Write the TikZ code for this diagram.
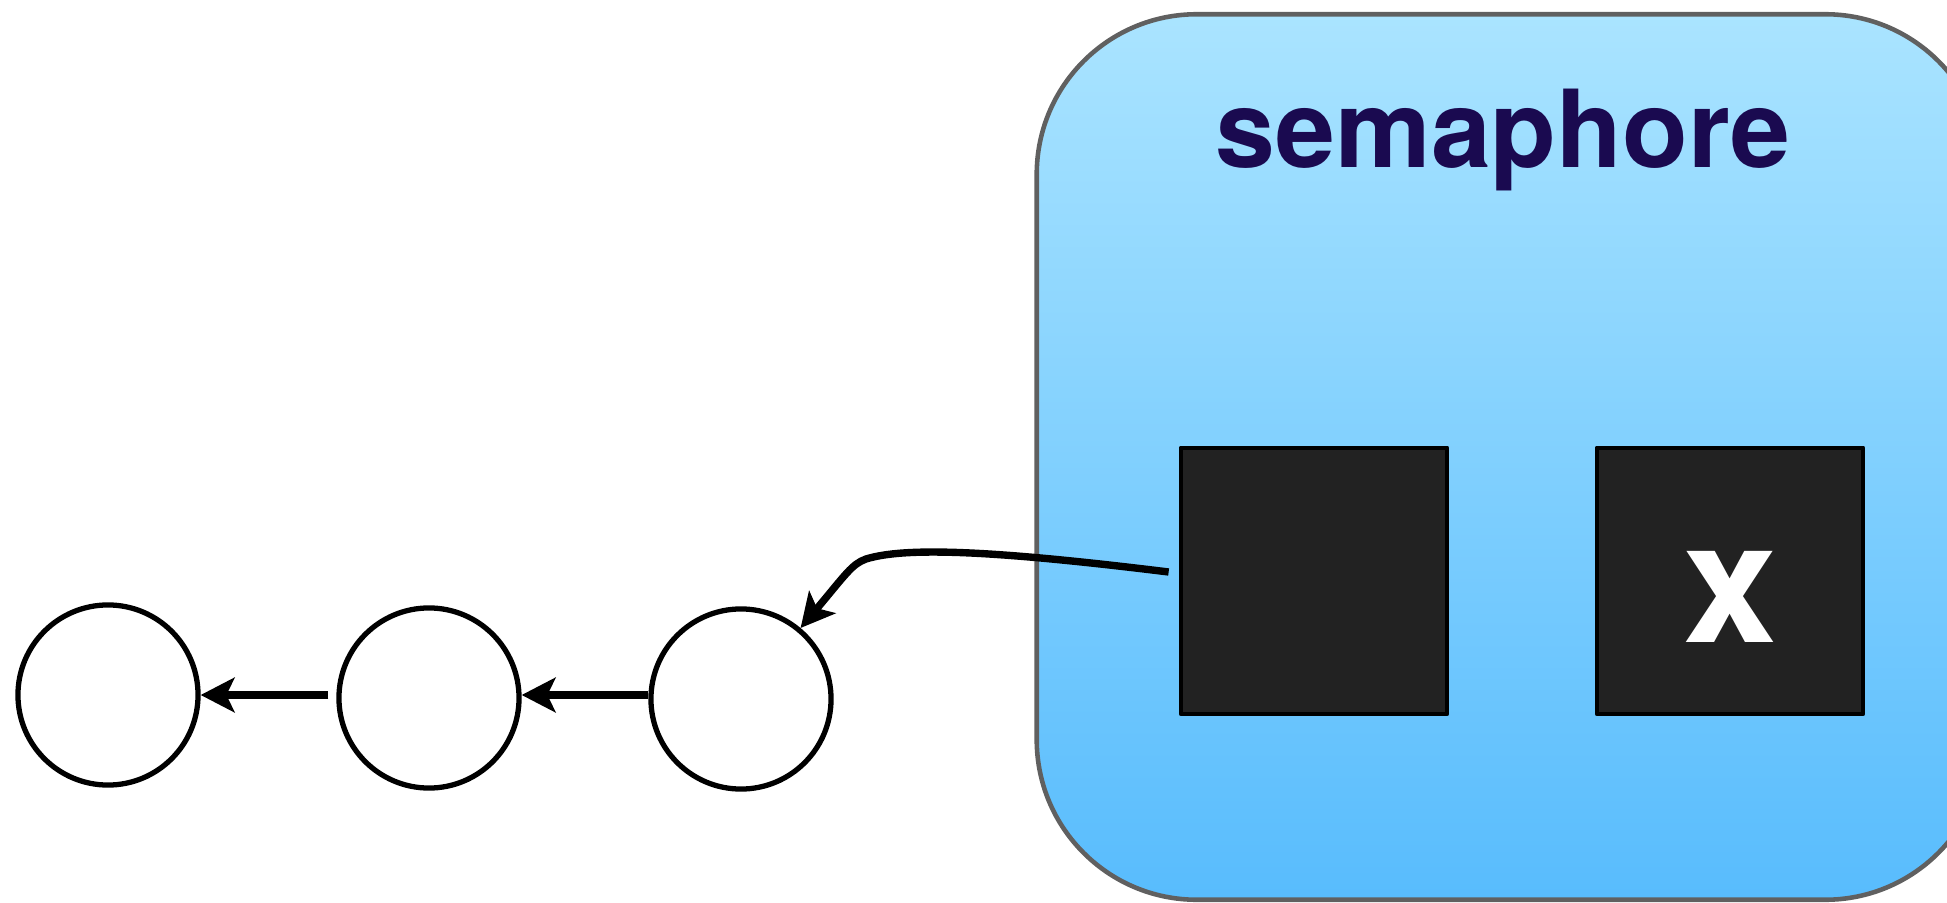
\documentclass[tikz,border=0pt]{standalone}
\usepackage{fontspec}
\setmainfont{TeX Gyre Heros}
\usetikzlibrary{arrows.meta, calc, positioning}
\definecolor{semtop}{RGB}{170,228,255}
\definecolor{sembot}{RGB}{88,188,253}
\definecolor{semedge}{RGB}{96,96,96}
\definecolor{semtitle}{RGB}{26,10,80}
\definecolor{slotfill}{RGB}{34,34,34}

\begin{document}
\begin{tikzpicture}[x=0.01cm, y=-0.01cm, line join=round,
	>={Stealth[length=9.6pt, width=9.8pt, inset=2.3pt]},
	waiter/.style={circle, draw=black, line width=1.5pt, minimum size=1.8cm, inner sep=0pt},
	flow/.style={->, line width=2.1pt},
	slot/.style={rectangle, draw=black, line width=1.3pt, fill=slotfill,
		minimum width=2.66cm, minimum height=2.66cm, inner sep=0pt},
	semabox/.style={rectangle, rounded corners=1.6cm, draw=semedge, line width=1.3pt,
		top color=semtop, bottom color=sembot,
		minimum width=9.48cm, minimum height=8.85cm, inner sep=0pt}]

\clip (0,0) rectangle (1947,903);

%========================
% Right: the semaphore
%========================
\node[semabox] (sem) at (1511,457) {};
\node[font=\fontsize{30.6}{37}\selectfont\bfseries, text=semtitle, anchor=base]
	(semlbl) at (1503,167) {semaphore};

% the two slots
\node[slot] (lsq) at (1314,581) {};
\node[slot] (rsq) at (1730,581) {};
\node[font=\fontsize{48}{56}\selectfont\bfseries, text=white, anchor=base]
	(rsqlbl) at (1730,642) {x};

%========================
% Left: waiting queue
%========================
\node[waiter] (c1) at (108,695) {};
\node[waiter] (c2) at (429,698) {};
\node[waiter] (c3) at (741,699) {};

\draw[flow] ($(c2.west |- c1.east)+(-8,0)$) -- (c1.east);
\draw[flow] (c3.west |- c1.east) -- (c2.east |- c1.east);

% first slot points to the queue
\coordinate (tail) at ($(lsq.west)+(-10,-9)$);
\draw[flow] (tail) .. controls (990,550) and (905,547) .. (866,559)
	.. controls (852,564) and (846,574) .. (c3.50);

\end{tikzpicture}
\end{document}
